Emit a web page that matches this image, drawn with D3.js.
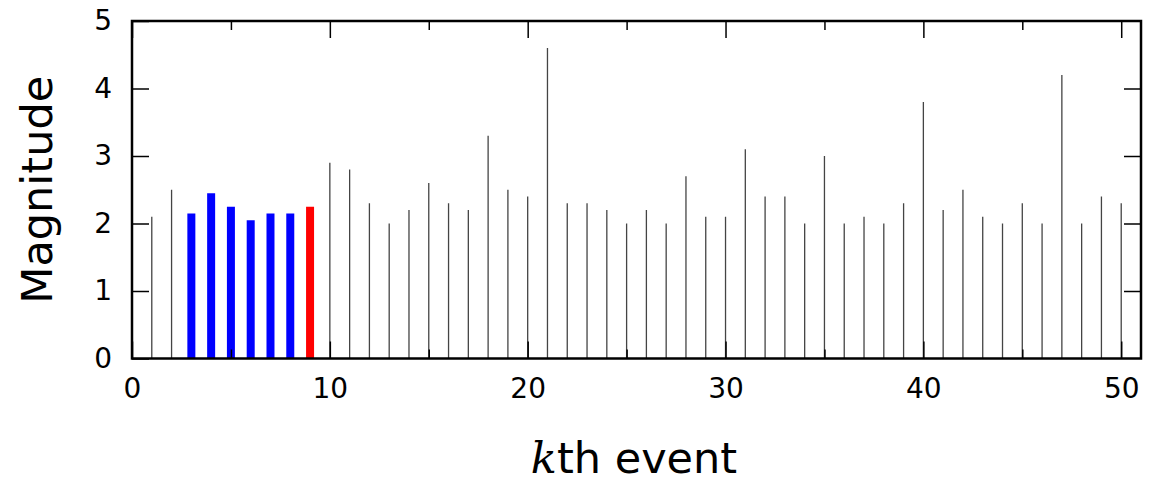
<!DOCTYPE html>
<html>
<head>
<meta charset="utf-8">
<script src="https://cdn.jsdelivr.net/npm/d3@7"></script>
<style>
  body { margin: 0; background: #fff; }
  svg text { font-family: "DejaVu Sans", sans-serif; fill: #000; }
  .tick-label { font-size: 28px; }
  .axis-title { font-size: 43px; }
</style>
</head>
<body>
<div id="chart"></div>
<script>
// --- Event magnitudes: stem plot, highlighted window (blue) and current event (red) ---

const events = d3.range(1, 51);
const magnitudes = [
  2.1, 2.5, 2.15, 2.45, 2.25, 2.05, 2.15, 2.15, 2.25, 2.9,
  2.8, 2.3, 2.0, 2.2, 2.6, 2.3, 2.2, 3.3, 2.5, 2.4,
  4.6, 2.3, 2.3, 2.2, 2.0, 2.2, 2.0, 2.7, 2.1, 2.1,
  3.1, 2.4, 2.4, 2.0, 3.0, 2.0, 2.1, 2.0, 2.3, 3.8,
  2.2, 2.5, 2.1, 2.0, 2.3, 2.0, 4.2, 2.0, 2.4, 2.3
];
const windowEvents = [3, 4, 5, 6, 7, 8];
const currentEvent = 9;
const xMajorTicks = [0, 10, 20, 30, 40, 50];
const xMinorTicks = [5, 15, 25, 35, 45];
const yTicks = [0, 1, 2, 3, 4, 5];

const W = 1161, H = 482;
const margin = { top: 21, right: 20, bottom: 123.5, left: 132 };
const width = W - margin.left - margin.right;
const height = H - margin.top - margin.bottom;

const svg = d3.select('#chart').append('svg')
  .attr('width', W)
  .attr('height', H);

const g = svg.append('g')
  .attr('transform', `translate(${margin.left},${margin.top})`);

const xScale = d3.scaleLinear().domain([0, 51]).range([0, width]);
const yScale = d3.scaleLinear().domain([0, 5]).range([height, 0]);

const data = events.map((k, i) => ({ k, m: magnitudes[i] }));

// thin stems
g.selectAll('.stem')
  .data(data.filter(d => d.k !== currentEvent && !windowEvents.includes(d.k)))
  .join('line')
  .attr('class', 'stem')
  .attr('x1', d => xScale(d.k)).attr('x2', d => xScale(d.k))
  .attr('y1', yScale(0)).attr('y2', d => yScale(d.m))
  .attr('stroke', '#444')
  .attr('stroke-width', 1.3);

// thick highlighted bars
g.selectAll('.hl')
  .data(data.filter(d => d.k === currentEvent || windowEvents.includes(d.k)))
  .join('line')
  .attr('class', 'hl')
  .attr('x1', d => xScale(d.k)).attr('x2', d => xScale(d.k))
  .attr('y1', yScale(0)).attr('y2', d => yScale(d.m))
  .attr('stroke', d => d.k === currentEvent ? '#ff0000' : '#0000ff')
  .attr('stroke-width', 8);

function styleAxis(sel) {
  sel.style('font-family', null).style('font-size', null);
  sel.select('.domain').remove();
  sel.selectAll('.tick line').attr('stroke', '#000').attr('stroke-width', 1.5);
  sel.selectAll('.tick text').attr('class', 'tick-label').attr('fill', '#000');
}

const intFmt = d3.format('d');

// bottom axis with labels, ticks pointing inward
g.append('g')
  .attr('transform', `translate(0,${height})`)
  .call(d3.axisBottom(xScale).tickValues(xMajorTicks).tickFormat(intFmt).tickSizeInner(-17).tickSizeOuter(0).tickPadding(20))
  .call(styleAxis);

g.append('g')
  .attr('transform', `translate(0,${height})`)
  .call(d3.axisBottom(xScale).tickValues(xMinorTicks).tickSizeInner(-9).tickSizeOuter(0).tickFormat(''))
  .call(styleAxis);

// top mirrored ticks
g.append('g')
  .call(d3.axisTop(xScale).tickValues(xMajorTicks).tickSizeInner(-17).tickSizeOuter(0).tickFormat(''))
  .call(styleAxis);

g.append('g')
  .call(d3.axisTop(xScale).tickValues(xMinorTicks).tickSizeInner(-9).tickSizeOuter(0).tickFormat(''))
  .call(styleAxis);

// left axis with labels
g.append('g')
  .call(d3.axisLeft(yScale).tickValues(yTicks).tickFormat(intFmt).tickSizeInner(-17).tickSizeOuter(0).tickPadding(20))
  .call(styleAxis);

// right mirrored ticks
g.append('g')
  .attr('transform', `translate(${width},0)`)
  .call(d3.axisRight(yScale).tickValues(yTicks.slice(1, -1)).tickSizeInner(-17).tickSizeOuter(0).tickFormat(''))
  .call(styleAxis);

// frame
g.append('rect')
  .attr('x', 0).attr('y', 0)
  .attr('width', width).attr('height', height)
  .attr('fill', 'none')
  .attr('stroke', '#000')
  .attr('stroke-width', 2.5);

// axis titles
g.append('text')
  .attr('class', 'axis-title')
  .attr('transform', 'rotate(-90)')
  .attr('x', -height / 2)
  .attr('y', -80)
  .attr('text-anchor', 'middle')
  .text('Magnitude');

const xTitle = g.append('text')
  .attr('class', 'axis-title')
  .attr('x', 634 - margin.left)
  .attr('y', 473 - margin.top)
  .attr('text-anchor', 'middle');
xTitle.append('tspan')
  .style('font-family', '"DejaVu Serif", serif')
  .style('font-style', 'italic')
  .text('k');
xTitle.append('tspan').text('th event');
</script>
</body>
</html>
